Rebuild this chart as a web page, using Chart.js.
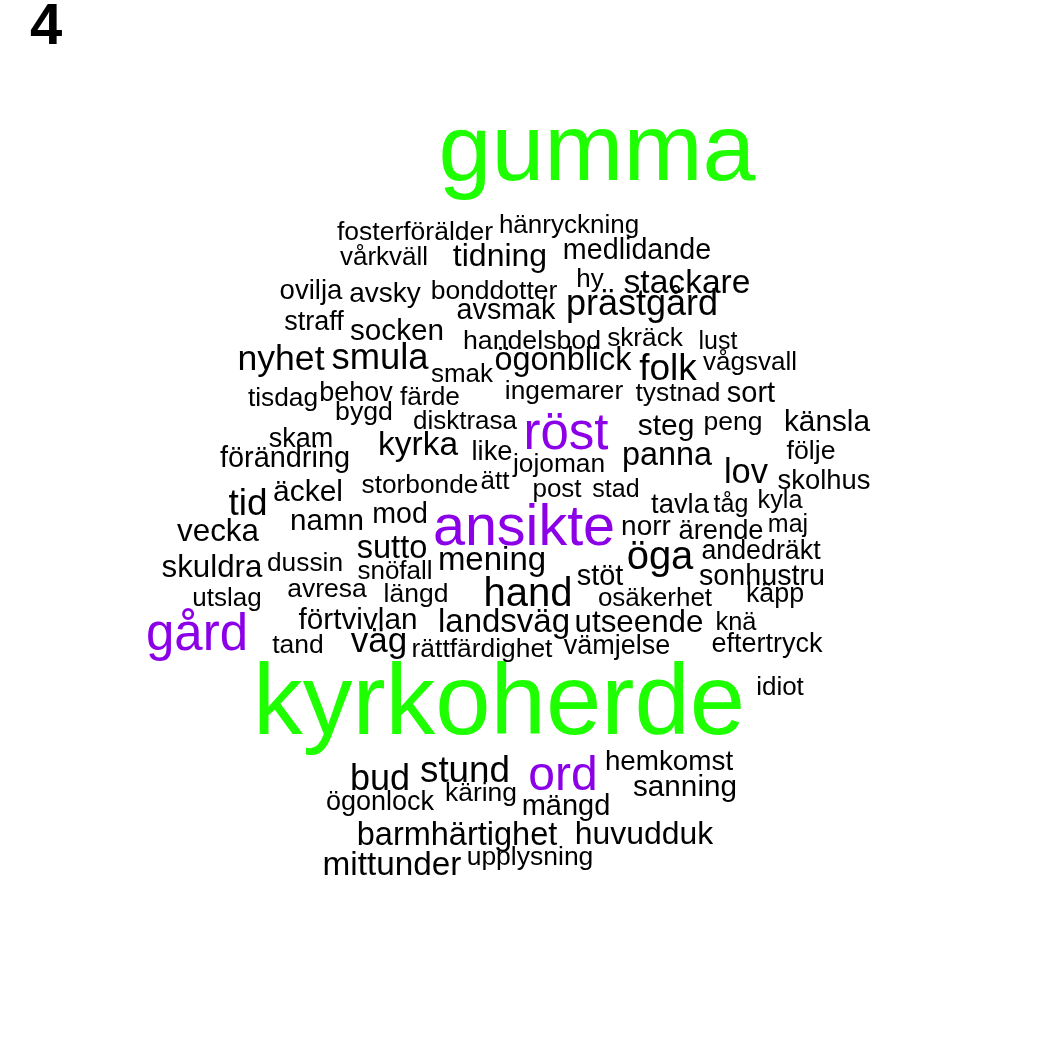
<!DOCTYPE html>
<html>
<head>
<meta charset="utf-8">
<script src="https://cdn.jsdelivr.net/npm/chart.js@4"></script>
<style>
  html, body { margin: 0; padding: 0; background: #fff; }
  #cloud { display: block; }
</style>
</head>
<body>
<canvas id="cloud" width="1050" height="1050"></canvas>
<script>
const panelLabel = "4";

// words of the cloud, their place (x = middle of word, y = baseline) and weight (font px)
const words = [
  "gumma", "kyrkoherde",
  "fosterförälder", "hänryckning", "vårkväll", "tidning", "medlidande",
  "ovilja", "avsky", "bonddotter", "hy", "stackare",
  "straff", "avsmak", "prästgård", "socken", "handelsbod", "skräck", "lust",
  "nyhet", "smula", "smak", "ögonblick", "folk", "vågsvall",
  "tisdag", "behov", "färde", "ingemarer", "tystnad", "sort",
  "bygd", "disktrasa", "röst", "steg", "peng", "känsla",
  "skam", "förändring", "kyrka", "like", "panna", "följe", "jojoman", "lov",
  "storbonde", "ätt", "post", "stad", "skolhus",
  "tid", "äckel", "tavla", "tåg", "kyla",
  "namn", "mod", "ansikte", "norr", "ärende", "maj", "vecka",
  "sutto", "öga", "andedräkt", "skuldra", "dussin", "snöfall", "mening",
  "stöt", "sonhustru", "avresa", "längd", "utslag", "hand", "osäkerhet", "käpp",
  "förtvivlan", "landsväg", "utseende", "knä",
  "gård", "tand", "väg", "rättfärdighet", "vämjelse", "eftertryck",
  "idiot", "bud", "stund", "ord", "hemkomst", "sanning",
  "ögonlock", "käring", "mängd", "barmhärtighet", "huvudduk",
  "mittunder", "upplysning"
];

const wordX = [
  597, 499,
  415, 569, 384, 500, 637,
  311, 385, 494, 590, 687,
  314, 506, 642, 397, 532, 645, 718,
  281, 380, 462, 563, 668, 750,
  283, 356, 430, 564, 678, 751,
  364, 465, 566, 666, 733, 827,
  301, 285, 418, 492, 667, 811, 559, 746,
  420, 495, 557, 616, 824,
  248, 308, 680, 731, 780,
  327, 400, 524, 646, 721, 788, 218,
  392, 660, 761, 212, 305, 395, 492,
  600, 762, 327, 416, 227, 528, 655, 775,
  358, 504, 639, 736,
  197, 298, 379, 482, 617, 767,
  780, 380, 465, 563, 669, 685,
  380, 481, 566, 457, 644,
  392, 530
];

const wordY = [
  180, 734,
  240, 233, 265, 266, 259,
  299, 302, 299, 287, 293,
  330, 319, 315, 340, 349, 346, 349,
  370, 369, 382, 370, 380, 370,
  406, 401, 405, 399, 401, 402,
  420, 429, 449, 435, 430, 431,
  447, 467, 455, 460, 465, 459, 472, 483,
  493, 489, 497, 497, 489,
  515, 501, 513, 512, 508,
  530, 523, 545, 535, 539, 532, 541,
  558, 569, 559, 577, 571, 579, 570,
  585, 585, 597, 602, 606, 606, 606, 602,
  629, 632, 632, 630,
  650, 653, 652, 657, 654, 652,
  695, 790, 782, 790, 770, 796,
  810, 801, 815, 845, 844,
  875, 865
];

const wordWeight = [
  95, 99.5,
  26.5, 26, 26, 32, 28.7,
  27.6, 28, 26.5, 26, 33.6,
  27, 28.7, 36, 29.7, 26.7, 26.2, 25,
  35.6, 36.4, 26, 32.4, 37, 26,
  26.3, 27, 26.3, 26.3, 26.4, 29,
  26.7, 26, 51, 30, 26.5, 29.8,
  27, 28.9, 33.5, 27.3, 32.4, 26.7, 26.3, 34.5,
  26.3, 26, 26, 25, 27.4,
  37, 30, 27.4, 25, 25.3,
  29.6, 28.6, 57.5, 28, 27.3, 25, 31.4,
  32.6, 40, 26.8, 31.3, 26.3, 26, 33,
  29, 28.7, 26.5, 26.5, 26, 40, 26, 26.8,
  29.7, 33, 31.3, 25.4,
  51, 26.5, 35, 26.4, 27, 27,
  26, 36, 36.8, 48, 27.8, 29.7,
  27, 26.4, 29, 32.5, 31.9,
  33.3, 26.5
];

const FONT = '"Liberation Sans", Arial, Helvetica, sans-serif';

function wordColour(w) {
  if (w >= 80) return "#1eff00";
  if (w >= 45) return "#8c00e8";
  return "#000000";
}

const wordPlugin = {
  id: "wordPlugin",
  afterDatasetsDraw(chart) {
    const ctx = chart.ctx;
    const meta = chart.getDatasetMeta(0);
    ctx.save();
    ctx.textAlign = "center";
    ctx.textBaseline = "alphabetic";
    meta.data.forEach((pt, i) => {
      ctx.font = wordWeight[i] + "px " + FONT;
      ctx.fillStyle = wordColour(wordWeight[i]);
      ctx.fillText(words[i], pt.x, pt.y);
    });
    // panel number, top left
    ctx.textAlign = "left";
    ctx.font = "bold 58px " + FONT;
    ctx.fillStyle = "#000";
    ctx.fillText(panelLabel, 30, 44);
    ctx.restore();
  }
};

new Chart(document.getElementById("cloud"), {
  type: "scatter",
  data: {
    datasets: [{
      data: words.map((w, i) => ({ x: wordX[i], y: wordY[i] })),
      pointRadius: 0,
      pointHoverRadius: 0
    }]
  },
  options: {
    responsive: false,
    animation: false,
    devicePixelRatio: 1,
    layout: { padding: 0 },
    plugins: { legend: { display: false }, tooltip: { enabled: false } },
    scales: {
      x: { type: "linear", min: 0, max: 1050, display: false },
      y: { type: "linear", min: 0, max: 1050, reverse: true, display: false }
    }
  },
  plugins: [wordPlugin]
});
</script>
</body>
</html>
